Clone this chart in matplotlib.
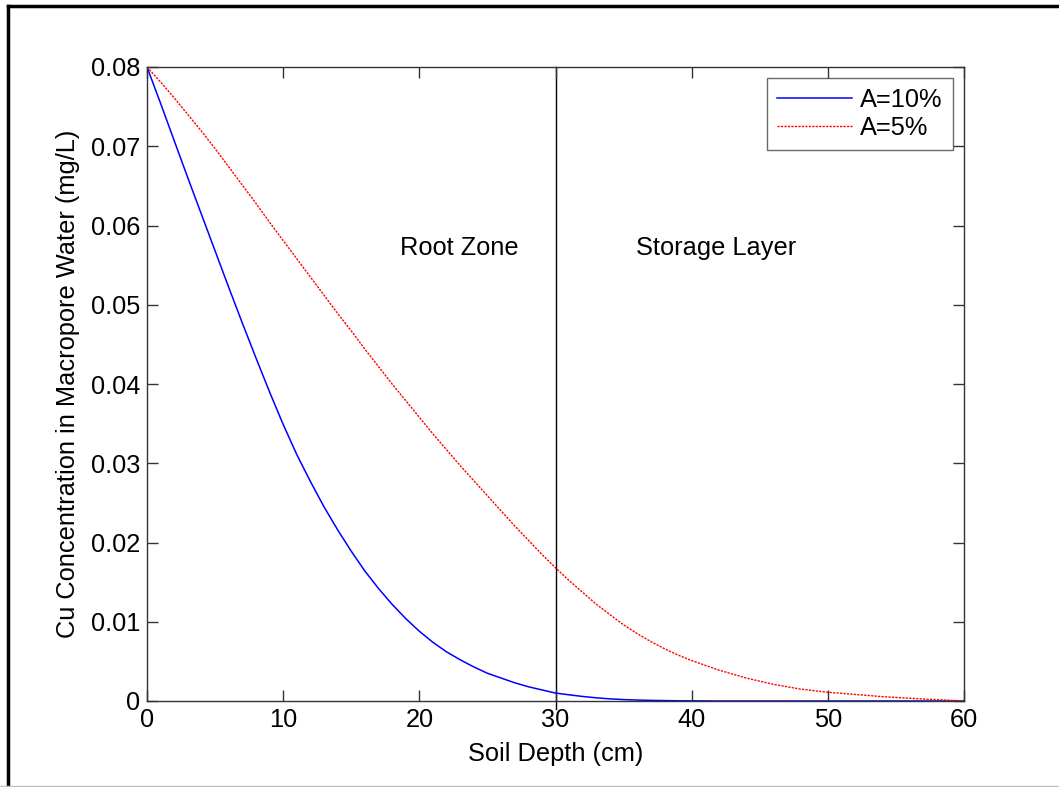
import matplotlib
matplotlib.use("Agg")
import matplotlib.pyplot as plt
from matplotlib.lines import Line2D

plt.rcParams['font.family'] = ['Liberation Sans', 'DejaVu Sans']

# Soil depth (cm)
depth = list(range(0, 61))

# Cu concentration in macropore water (mg/L), A = 10%
conc_a10 = [0.0800, 0.0754, 0.0707, 0.0660, 0.0614, 0.0568, 0.0522, 0.0477,
            0.0433, 0.0390, 0.0349, 0.0311, 0.0277, 0.0245, 0.0216, 0.0189,
            0.0164, 0.0142, 0.0122, 0.0104, 0.0088, 0.0074, 0.0062, 0.0052,
            0.0043, 0.0035, 0.0029, 0.0023, 0.0018, 0.0014, 0.0010, 0.00078,
            0.00057, 0.00040, 0.00027, 0.00018, 0.00012, 0.00008, 0.00005,
            0.00003, 0.00002, 0.00001, 0.0, 0.0, 0.0, 0.0, 0.0, 0.0, 0.0,
            0.0, 0.0, 0.0, 0.0, 0.0, 0.0, 0.0, 0.0, 0.0, 0.0, 0.0, 0.0]

# Cu concentration in macropore water (mg/L), A = 5%
conc_a5 = [0.0800, 0.0781, 0.0761, 0.0740, 0.0719, 0.0697, 0.0674, 0.0651,
           0.0628, 0.0604, 0.0581, 0.0558, 0.0535, 0.0512, 0.0489, 0.0467,
           0.0444, 0.0422, 0.0400, 0.0379, 0.0358, 0.0337, 0.0317, 0.0297,
           0.0278, 0.0259, 0.0240, 0.0221, 0.0203, 0.0185, 0.0168, 0.0152,
           0.0137, 0.0122, 0.0109, 0.0096, 0.0085, 0.0075, 0.0066, 0.0058,
           0.0051, 0.0045, 0.0039, 0.0034, 0.0029, 0.0025, 0.0021, 0.0018,
           0.0015, 0.0013, 0.0011, 0.00097, 0.00083, 0.00069, 0.00055,
           0.00045, 0.00035, 0.00026, 0.00017, 0.00009, 0.0]

x_ticks = [0, 10, 20, 30, 40, 50, 60]
y_ticks = [0, 0.01, 0.02, 0.03, 0.04, 0.05, 0.06, 0.07, 0.08]
y_tick_labels = ['0', '0.01', '0.02', '0.03', '0.04', '0.05', '0.06', '0.07', '0.08']
boundary_depth = 30

FS = 18.3
W, H = 1059, 787
fig = plt.figure(figsize=(W / 100, H / 100), dpi=100)
ax = fig.add_axes([147 / W, 1 - 701 / H, (964 - 147) / W, (701 - 67) / H])

ax.plot(depth, conc_a10, color='#0000ff', lw=1.1, label='A=10%')
ax.plot(depth, conc_a5, color='#ff0000', lw=1.0, ls=(0, (1.6, 0.9)), label='A=5%')

# root zone / storage layer boundary
ax.plot([boundary_depth, boundary_depth], [-0.001, 0.08], color='black', lw=1.0,
        clip_on=False, zorder=1)

ax.text(22.9, 0.0572, 'Root Zone', fontsize=FS, ha='center', va='center')
ax.text(41.8, 0.0572, 'Storage Layer', fontsize=FS, ha='center', va='center')

ax.set_xlim(0, 60)
ax.set_ylim(0, 0.08)
ax.set_xticks(x_ticks)
ax.set_xticklabels([str(t) for t in x_ticks])
ax.set_yticks(y_ticks)
ax.set_yticklabels(y_tick_labels)

for s in ax.spines.values():
    s.set_color('#333333')
    s.set_linewidth(1.0)

ax.tick_params(direction='in', length=8, width=1.0, color='#333333',
               top=True, right=True, labelsize=FS, pad=5)

ax.set_xlabel('Soil Depth (cm)', fontsize=FS, labelpad=7.5)
ax.set_ylabel('Cu Concentration in Macropore Water (mg/L)', fontsize=FS, labelpad=8)

leg = ax.legend(loc='upper right', fontsize=FS, frameon=True, fancybox=False,
                handlelength=2.95, handletextpad=0.35, borderpad=0.38,
                labelspacing=0.15, borderaxespad=0.45)
leg.get_frame().set_edgecolor('#444444')
leg.get_frame().set_linewidth(1.0)

# outer frame
fig.add_artist(Line2D([8 / W, 8 / W], [0, 1 - 6 / H], color='black', lw=2.5,
                      transform=fig.transFigure))
fig.add_artist(Line2D([8 / W, 1], [1 - 6 / H, 1 - 6 / H], color='black', lw=2.5,
                      transform=fig.transFigure))
fig.add_artist(Line2D([0, 1], [1 - 786 / H, 1 - 786 / H], color='#c0c0c0', lw=1.0,
                      transform=fig.transFigure))

fig.savefig('out.png', dpi=100)
